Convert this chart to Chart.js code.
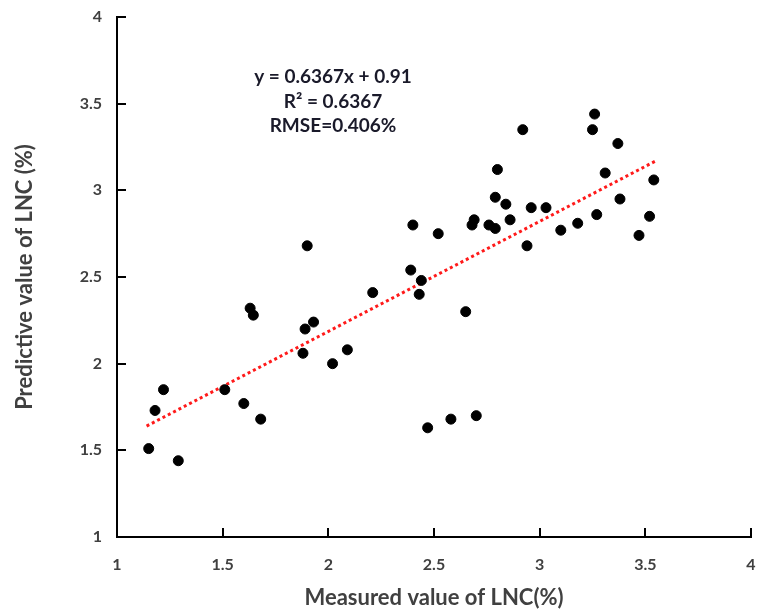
<!DOCTYPE html>
<html>
<head>
<meta charset="utf-8">
<script src="https://cdn.jsdelivr.net/npm/chart.js@4.4.1/dist/chart.umd.min.js"></script>
<style>
  html, body { margin: 0; padding: 0; background: #fff; }
</style>
</head>
<body>
<canvas id="chart1" width="757" height="611"></canvas>
<script>
// ------------------------------- DATA
var measured = [1.15, 1.18, 1.22, 1.29, 1.51, 1.60, 1.68, 1.63, 1.645, 1.89, 1.93, 1.88, 2.02, 2.09, 2.21, 2.39,
    2.43, 2.44, 1.90, 2.40, 2.47, 2.58, 2.70, 2.65, 2.52, 2.69, 2.68, 2.76, 2.79, 2.79, 2.80, 2.84,
    2.86, 2.92, 2.94, 2.96, 3.03, 3.10, 3.18, 3.25, 3.26, 3.27, 3.31, 3.37, 3.38, 3.47, 3.52, 3.54]
var predicted = [1.51, 1.73, 1.85, 1.44, 1.85, 1.77, 1.68, 2.32, 2.28, 2.20, 2.24, 2.06, 2.00, 2.08, 2.41, 2.54,
    2.40, 2.48, 2.68, 2.80, 1.63, 1.68, 1.70, 2.30, 2.75, 2.83, 2.80, 2.80, 2.78, 2.96, 3.12, 2.92,
    2.83, 3.35, 2.68, 2.90, 2.90, 2.77, 2.81, 3.35, 3.44, 2.86, 3.10, 3.27, 2.95, 2.74, 2.85, 3.06]

// trend line ends
var trendX = [1.14, 3.55]
var trendY = [1.64, 3.17]

var tickVals = [1, 1.5, 2, 2.5, 3, 3.5, 4]
var annoLines = ['y = 0.6367x + 0.91', 'R\u00b2 = 0.6367', 'RMSE=0.406%']

var xTitle = 'Measured value of LNC(%)'
var yTitle = 'Predictive value of LNC (%)'

// ------------------------------- PLUGINS

// short ticks pointing into the plot + the fit text
var extras = {
    id: 'extras',
    afterDraw: (chart) => {
        let ctx = chart.ctx
        let xs = chart.scales.x, ys = chart.scales.y
        let x0 = xs.getPixelForValue(1)
        let y0 = ys.getPixelForValue(1)
        ctx.save()
        ctx.strokeStyle = '#000'
        ctx.lineWidth = 2
        ctx.setLineDash([])
        for (let i = 1; i < tickVals.length; i++) {
            let px = Math.round(xs.getPixelForValue(tickVals[i]))
            let py = Math.round(ys.getPixelForValue(tickVals[i]))
            ctx.beginPath()
            ctx.moveTo(px, y0)
            ctx.lineTo(px, y0 - 9)
            ctx.stroke()
            ctx.beginPath()
            ctx.moveTo(x0, py)
            ctx.lineTo(x0 + 9, py)
            ctx.stroke()
        }

        ctx.font = 'bold 19px Lato'
        ctx.fillStyle = '#1a1a2a'
        ctx.textAlign = 'center'
        ctx.textBaseline = 'middle'
        annoLines.forEach((t, i) => ctx.fillText(t, 333, 77 + i * 24.5))
        ctx.restore()
    }
}

// ------------------------------- CHART
var points = measured.map((x, i) => ({ x: x, y: predicted[i] }))
var trend = trendX.map((x, i) => ({ x: x, y: trendY[i] }))

var tickFont = { family: 'Lato', size: 16, weight: 'bold' }
var titleFont = { family: 'Lato', size: 22, weight: 'bold' }

new Chart(document.getElementById('chart1'), {
    type: 'scatter',
    data: {
        datasets: [
            {
                data: points,
                backgroundColor: '#000',
                borderColor: '#000',
                pointRadius: 5,
                pointHoverRadius: 5
            },
            {
                type: 'line',
                data: trend,
                borderColor: '#ff1a1a',
                borderWidth: 3,
                borderDash: [3, 3],
                pointRadius: 0,
                fill: false
            }
        ]
    },
    options: {
        responsive: false,
        animation: false,
        layout: { padding: { top: 17, right: 4, left: 0, bottom: 0 } },
        plugins: {
            legend: { display: false },
            tooltip: { enabled: false }
        },
        scales: {
            x: {
                type: 'linear',
                min: 1,
                max: 4,
                afterFit: (s) => { s.height = 74; s.paddingLeft = 0; s.paddingRight = 0 },
                afterBuildTicks: (s) => { s.ticks = tickVals.map(v => ({ value: v })) },
                grid: { display: false, drawTicks: false },
                border: { display: true, color: '#000', width: 2 },
                ticks: { font: tickFont, color: '#404040', padding: 18, maxRotation: 0, callback: (v) => String(v) },
                title: {
                    display: true,
                    text: xTitle,
                    font: titleFont,
                    color: '#404040',
                    padding: { top: 0, bottom: 0 }
                }
            },
            y: {
                type: 'linear',
                min: 1,
                max: 4,
                afterFit: (s) => { s.width = 117; s.paddingTop = 0; s.paddingBottom = 0 },
                afterBuildTicks: (s) => { s.ticks = tickVals.map(v => ({ value: v })) },
                grid: { display: false, drawTicks: false },
                border: { display: true, color: '#000', width: 2 },
                ticks: { font: tickFont, color: '#404040', padding: 15, callback: (v) => String(v) },
                title: {
                    display: true,
                    text: yTitle,
                    font: titleFont,
                    color: '#404040',
                    padding: { top: 12, bottom: 0 }
                }
            }
        }
    },
    plugins: [extras]
})
</script>
</body>
</html>
